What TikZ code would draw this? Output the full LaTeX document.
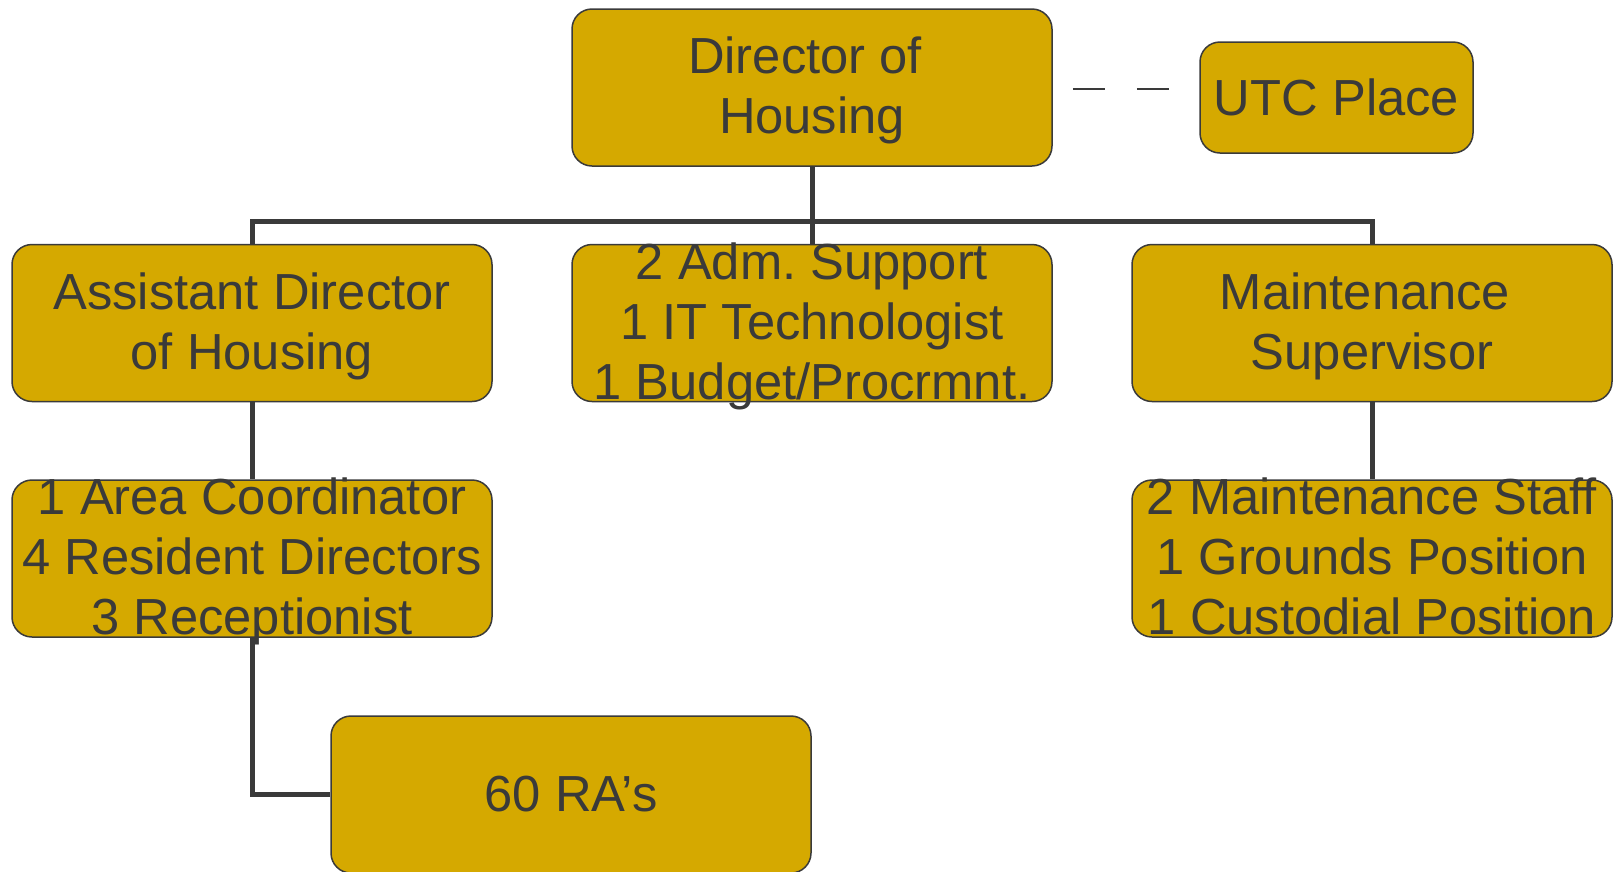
\documentclass[tikz,border=0pt]{standalone}
\usepackage{fontspec}
\setmainfont{Liberation Sans}
\frenchspacing
\definecolor{boxfill}{RGB}{213,169,0}
\definecolor{ink}{RGB}{58,58,58}
\newcommand{\boxlines}[1]{\raisebox{-10.5pt}[0pt][0pt]{\begin{tabular}{@{}c@{}}#1\end{tabular}}}
\newcommand{\trailsp}{\hbox to 14pt{}}
\tikzset{
  orgbox/.style={draw=ink, line width=1.5pt, fill=boxfill, rounded corners=20pt,
    minimum width=480pt, minimum height=157pt, inner xsep=0pt, inner ysep=-40pt, align=center,
    text=ink, font=\fontsize{50.7}{60}\selectfont},
  link/.style={draw=ink, line width=5pt},
  dashlink/.style={draw=ink, line width=1.5pt, dash pattern=on 32pt off 32pt, dash phase=44pt}
}
\begin{document}
\begin{tikzpicture}[x=1pt,y=-1pt]
\useasboundingbox (0,0) rectangle (1613,871);
\coordinate (busL) at (252,221);
\coordinate (busR) at (1372,221);
\node[orgbox] (dir) at (812,87.5) {\boxlines{Director of\trailsp\\Housing}};
\node[orgbox, minimum width=273pt, minimum height=111pt] (utc) at (1336.5,97.5) {UTC Place};
\node[orgbox] (asst) at (252,323) {\boxlines{Assistant Director\\of Housing}};
\node[orgbox] (adm) at (812,323) {\boxlines{2 Adm. Support\\1 IT Technologist\\1 Budget/Procrmnt.}};
\node[orgbox] (maint) at (1372,323) {\boxlines{Maintenance\trailsp\\Supervisor}};
\node[orgbox] (area) at (252,558.5) {\boxlines{1 Area Coordinator\\4 Resident Directors\\3 Receptionist}};
\node[orgbox] (mstaff) at (1372,558.5) {\boxlines{2 Maintenance Staff\\1 Grounds Position\\1 Custodial Position}};
\node[orgbox] (ras) at (571,794.5) {60 RA’s};
\draw[link] (asst.north) -- (busL) -- (busR) -- (maint.north);
\draw[link] (dir.south) -- (adm.north);
\draw[link] (asst.south) -- (area.north);
\draw[link] (maint.south) -- (mstaff.north);
\draw[link] (area.south) |- (ras.west);
\draw[dashlink] (dir.east |- 0,89) -- (utc.west |- 0,89);
\end{tikzpicture}
\end{document}
